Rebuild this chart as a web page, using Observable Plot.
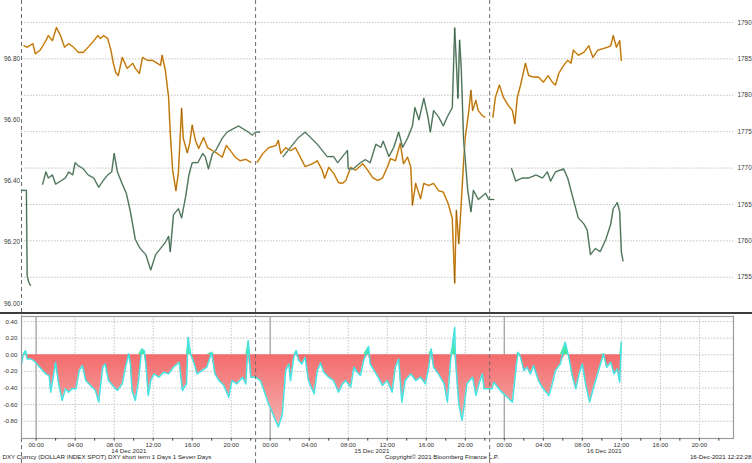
<!DOCTYPE html>
<html><head><meta charset="utf-8">
<script src="https://cdn.jsdelivr.net/npm/d3@7"></script>
<script src="https://cdn.jsdelivr.net/npm/@observablehq/plot@0.6"></script>
<style>
body{margin:0;background:#fff;}
#chart{width:752px;height:463px;position:relative;overflow:hidden;background:#fff;}
#sep{height:2px;background:#3d3d3d;}
#chart svg{display:block;}
</style></head><body><div id="chart"></div>
<script>
// ---- data (times are Dec 2021, GMT) ----
const dxySeries = [
["13T22:30",96.37],["13T23:00",96.37],["13T23:05",96.09],["13T23:15",96.07],["13T23:25",96.06],["14T00:00",NaN],
["14T00:40",96.39],["14T01:00",96.43],["14T01:15",96.41],["14T01:40",96.42],["14T02:00",96.39],["14T02:30",96.40],
["14T03:00",96.41],["14T03:20",96.43],["14T03:45",96.42],["14T04:00",96.46],["14T04:20",96.45],["14T04:50",96.44],
["14T05:20",96.42],["14T05:55",96.41],["14T06:25",96.38],["14T06:50",96.40],["14T07:20",96.42],["14T07:45",96.43],
["14T08:00",96.49],["14T08:20",96.43],["14T08:50",96.39],["14T09:15",96.36],["14T09:40",96.30],["14T10:10",96.21],
["14T10:40",96.18],["14T11:15",96.16],["14T11:45",96.11],["14T12:15",96.16],["14T12:45",96.18],["14T13:15",96.20],
["14T13:35",96.22],["14T13:45",96.17],["14T14:05",96.29],["14T14:35",96.31],["14T14:55",96.28],["14T15:20",96.35],
["14T15:40",96.42],["14T16:00",96.46],["14T16:35",96.46],["14T17:05",96.49],["14T17:20",96.48],["14T17:40",96.44],
["14T18:05",96.49],["14T18:25",96.50],["14T18:35",96.51],["14T19:05",96.54],["14T19:35",96.56],["14T20:10",96.57],
["14T20:45",96.58],["14T21:15",96.57],["14T21:45",96.56],["14T22:10",96.55],["14T22:30",96.56],["14T22:55",96.56],
["15T00:00",NaN],
["15T01:20",96.48],["15T01:35",96.49],["15T02:50",96.54],["15T03:35",96.56],["15T04:50",96.52],["15T05:50",96.48],
["15T06:30",96.48],["15T06:55",96.46],["15T07:25",96.48],["15T07:55",96.50],["15T08:00",96.44],["15T08:30",96.44],
["15T09:15",96.46],["15T09:45",96.47],["15T10:15",96.46],["15T10:50",96.52],["15T11:20",96.51],["15T11:35",96.53],
["15T12:10",96.48],["15T12:40",96.51],["15T13:10",96.56],["15T13:35",96.51],["15T14:05",96.54],["15T14:35",96.58],
["15T14:50",96.64],["15T15:15",96.60],["15T15:45",96.67],["15T16:10",96.61],["15T16:25",96.56],["15T16:45",96.63],
["15T17:15",96.61],["15T17:45",96.58],["15T18:10",96.61],["15T18:40",96.64],["15T18:55",96.90],["15T19:15",96.67],
["15T19:25",96.86],["15T19:35",96.77],["15T19:50",96.53],["15T20:00",96.47],["15T20:15",96.37],["15T20:35",96.30],
["15T20:50",96.37],["15T21:20",96.34],["15T22:05",96.36],["15T22:25",96.34],["15T22:55",96.34],["16T00:00",NaN],
["16T00:45",96.44],["16T01:10",96.40],["16T01:50",96.41],["16T02:30",96.41],["16T03:15",96.42],["16T03:55",96.41],
["16T04:25",96.43],["16T04:45",96.40],["16T05:15",96.43],["16T06:05",96.44],["16T06:30",96.41],["16T07:00",96.35],
["16T07:35",96.28],["16T08:10",96.26],["16T08:30",96.24],["16T08:50",96.16],["16T09:20",96.18],["16T09:50",96.17],
["16T10:25",96.21],["16T10:55",96.26],["16T11:10",96.31],["16T11:35",96.33],["16T11:50",96.30],["16T12:00",96.17],
["16T12:10",96.14]
];
const goldSeries = [
["13T22:45",1786.8],["13T23:05",1786.6],["13T23:40",1787.1],["13T23:55",1785.7],["14T00:25",1786.2],["14T01:00",1787.5],
["14T01:15",1788.2],["14T01:40",1787.5],["14T02:05",1789.3],["14T02:30",1788.2],["14T02:55",1786.6],["14T03:20",1787.1],
["14T03:50",1786.6],["14T04:20",1785.9],["14T04:50",1785.9],["14T05:20",1786.6],["14T05:55",1787.5],["14T06:20",1788.2],
["14T06:35",1787.8],["14T06:55",1788.2],["14T07:20",1787.8],["14T07:40",1786.2],["14T07:55",1784.4],["14T08:10",1783.1],
["14T08:25",1782.7],["14T08:50",1785.2],["14T09:20",1783.7],["14T09:55",1784.4],["14T10:10",1783.7],["14T10:35",1783.0],
["14T10:55",1785.2],["14T11:25",1784.8],["14T11:55",1784.8],["14T12:25",1784.4],["14T12:45",1784.1],["14T12:55",1785.5],
["14T13:15",1783.4],["14T13:35",1779.7],["14T13:45",1774.8],["14T14:00",1769.7],["14T14:20",1766.9],["14T14:35",1769.3],
["14T14:55",1778.2],["14T15:05",1774.1],["14T15:30",1772.1],["14T15:45",1773.4],["14T16:00",1775.9],["14T16:20",1773.8],
["14T16:40",1772.7],["14T17:10",1774.2],["14T17:35",1772.8],["14T18:05",1772.4],["14T18:35",1772.0],["14T19:05",1771.5],
["14T19:30",1773.1],["14T19:55",1772.4],["14T20:25",1771.5],["14T20:55",1771.0],["14T21:30",1771.2],["14T22:00",1770.8],
["14T22:20",NaN],
["14T22:40",1770.8],["14T23:15",1772.0],["14T23:50",1772.8],["15T00:35",1773.1],["15T00:50",1773.8],["15T01:05",1772.0],
["15T01:35",1772.8],["15T02:05",1772.4],["15T02:35",1772.8],["15T03:05",1771.5],["15T03:35",1770.2],["15T04:20",1770.6],
["15T04:50",1771.0],["15T05:20",1769.7],["15T05:35",1768.6],["15T06:00",1770.1],["15T06:30",1769.3],["15T07:00",1768.0],
["15T07:25",1767.9],["15T07:45",1768.3],["15T08:15",1770.1],["15T08:45",1769.7],["15T09:30",1770.6],["15T10:00",1769.7],
["15T10:30",1768.7],["15T11:00",1768.3],["15T11:30",1768.6],["15T12:00",1770.1],["15T12:20",1771.3],["15T12:50",1771.0],
["15T13:20",1773.4],["15T13:40",1770.6],["15T14:05",1771.5],["15T14:25",1770.1],["15T14:35",1764.9],["15T14:55",1767.9],
["15T15:25",1765.8],["15T15:45",1767.9],["15T16:15",1767.6],["15T16:45",1767.9],["15T17:15",1766.9],["15T17:45",1766.7],
["15T18:15",1765.1],["15T18:40",1763.1],["15T18:55",1754.2],["15T19:05",1764.2],["15T19:20",1759.6],["15T19:35",1765.1],
["15T19:50",1771.0],["15T20:00",1774.2],["15T20:20",1777.5],["15T20:35",1780.7],["15T20:45",1777.9],["15T21:05",1779.3],
["15T21:20",1777.9],["15T21:45",1777.2],["15T22:00",1777.0],["15T22:25",NaN],
["15T22:50",1777.0],["15T23:05",1779.7],["15T23:30",1781.4],["15T23:55",1779.7],["16T00:25",1778.6],["16T00:50",1777.9],
["16T01:05",1776.1],["16T01:20",1779.7],["16T01:40",1781.4],["16T02:10",1784.4],["16T02:30",1782.7],["16T03:00",1782.5],
["16T03:30",1782.5],["16T04:00",1781.8],["16T04:30",1782.7],["16T04:55",1781.8],["16T05:15",1781.4],["16T05:35",1783.0],
["16T06:05",1784.1],["16T06:30",1784.8],["16T06:50",1784.4],["16T07:05",1786.2],["16T07:35",1785.5],["16T08:10",1785.9],
["16T08:40",1786.8],["16T09:05",1785.2],["16T09:35",1786.2],["16T10:05",1786.4],["16T10:35",1786.6],["16T10:55",1786.8],
["16T11:10",1788.2],["16T11:30",1786.6],["16T11:50",1787.5],["16T12:00",1784.8]
];
const oscSeries = [
["13T22:30",-0.11],["13T22:40",-0.01],["13T22:55",0.05],["13T23:05",-0.05],["13T23:25",-0.05],["13T23:45",-0.07],
["14T00:05",-0.11],["14T00:40",-0.19],["14T01:00",-0.23],["14T01:20",-0.25],["14T01:30",-0.45],["14T01:45",-0.27],
["14T02:00",-0.09],["14T02:15",-0.31],["14T02:40",-0.55],["14T03:00",-0.41],["14T03:20",-0.45],["14T03:40",-0.41],
["14T04:05",-0.41],["14T04:25",-0.19],["14T04:45",-0.13],["14T05:05",-0.31],["14T05:35",-0.37],["14T06:05",-0.43],
["14T06:25",-0.57],["14T06:50",-0.15],["14T07:05",-0.11],["14T07:25",-0.31],["14T08:00",-0.39],["14T08:20",-0.43],
["14T08:50",-0.35],["14T09:10",-0.15],["14T09:30",0.01],["14T09:40",-0.11],["14T09:50",-0.43],["14T10:10",-0.55],
["14T10:30",-0.31],["14T10:50",0.07],["14T11:05",0.05],["14T11:15",-0.11],["14T11:30",-0.49],["14T11:45",-0.31],
["14T12:05",-0.23],["14T12:35",-0.27],["14T13:05",-0.21],["14T13:35",-0.23],["14T14:05",-0.15],["14T14:40",-0.09],
["14T15:00",-0.43],["14T15:25",-0.35],["14T15:35",0.21],["14T15:50",0.01],["14T16:10",-0.09],["14T16:30",-0.23],
["14T17:00",-0.19],["14T17:30",-0.15],["14T18:00",0.03],["14T18:20",-0.23],["14T18:45",-0.31],["14T19:15",-0.37],
["14T19:45",-0.51],["14T20:05",-0.31],["14T20:35",-0.35],["14T21:10",-0.27],["14T21:30",-0.35],["14T21:45",0.17],
["14T22:00",-0.27],["14T22:30",-0.27],["14T23:00",-0.31],["14T23:50",-0.59],["15T00:50",-0.87],["15T01:15",-0.71],
["15T01:35",-0.19],["15T01:55",-0.11],["15T02:05",-0.31],["15T02:25",-0.03],["15T02:40",0.05],["15T02:55",-0.07],
["15T03:15",-0.11],["15T03:35",-0.03],["15T03:55",-0.31],["15T04:30",-0.47],["15T04:50",-0.19],["15T05:10",-0.10],
["15T05:30",-0.21],["15T06:00",-0.27],["15T06:30",-0.31],["15T07:00",-0.45],["15T07:25",-0.35],["15T07:45",-0.31],
["15T08:15",-0.39],["15T08:35",-0.15],["15T08:55",-0.21],["15T09:15",-0.25],["15T09:35",-0.07],["15T10:05",0.10],
["15T10:15",-0.11],["15T10:40",-0.19],["15T11:10",-0.29],["15T11:30",-0.37],["15T12:00",-0.31],["15T12:30",-0.45],
["15T12:50",-0.15],["15T13:10",-0.05],["15T13:30",-0.57],["15T13:50",-0.31],["15T14:25",-0.23],["15T14:55",-0.31],
["15T15:25",-0.27],["15T15:55",-0.35],["15T16:15",-0.15],["15T16:30",0.07],["15T16:45",-0.15],["15T17:15",-0.23],
["15T17:50",-0.35],["15T18:10",-0.57],["15T18:30",-0.07],["15T18:40",0.09],["15T18:55",0.33],["15T19:00",-0.07],
["15T19:20",-0.59],["15T19:40",-0.79],["15T19:55",-0.59],["15T20:10",-0.35],["15T20:45",-0.27],["15T21:05",-0.49],
["15T21:25",-0.35],["15T21:45",-0.23],["15T21:55",-0.41],["15T22:45",-0.41],["15T22:55",-0.33],["15T23:45",-0.45],
["16T00:50",-0.57],["16T01:00",-0.39],["16T01:15",-0.11],["16T01:25",0.03],["16T01:40",-0.03],["16T02:00",-0.19],
["16T02:20",-0.15],["16T02:40",-0.23],["16T03:00",-0.13],["16T03:30",-0.31],["16T04:00",-0.41],["16T04:35",-0.49],
["16T04:55",-0.35],["16T05:15",-0.19],["16T05:45",-0.11],["16T06:15",0.15],["16T06:35",-0.01],["16T07:00",-0.27],
["16T07:20",-0.41],["16T07:40",-0.23],["16T08:00",-0.11],["16T08:20",-0.35],["16T08:45",-0.57],["16T09:10",-0.39],
["16T09:40",-0.19],["16T10:10",0.01],["16T10:30",-0.15],["16T10:55",-0.09],["16T11:15",-0.23],["16T11:35",-0.17],
["16T11:50",-0.33],["16T12:00",0.15]
];
const xDomain = ["13T22:30","16T23:30"];
const sessionBreaks = ["13T22:30","14T22:30","15T22:30"];
const dayStarts = ["14T00:00","15T00:00","16T00:00"];
const dateLabelTimes = ["14T09:30","15T10:25","16T10:15"];
const dxyTicks = [96.00, 96.20, 96.40, 96.60, 96.80];
const goldTicks = [1755, 1760, 1765, 1770, 1775, 1780, 1785, 1790];
const oscTicks = [0.40, 0.20, 0.00, -0.20, -0.40, -0.60, -0.80];
const footerLeft = "DXY Curncy (DOLLAR INDEX SPOT) DXY short term 1 Days 1 Seven Days";
const footerMid = "Copyright\u00A9 2021 Bloomberg Finance L.P.";
const footerRight = "16-Dec-2021 12:22:28";

// ---- helpers ----
const parseT = s => new Date("2021-12-" + s + "Z");
const toRows = arr => arr.map(([t, v]) => ({t: parseT(t), v}));
const dxy = toRows(dxySeries), gold = toRows(goldSeries), osc = toRows(oscSeries);
const domainX = xDomain.map(parseT);
const breaks = sessionBreaks.map(parseT);
const days = dayStarts.map(parseT);
const dateTicks = dateLabelTimes.map(parseT);
const H = 3600e3;
const hourTicks = d3.utcHours(days[0], new Date(+days[2] + 21 * H), 4);
const gridTimes = hourTicks.filter(d => d.getUTCHours() !== 0);
const minorTicks = d3.utcHours(days[0], new Date(+days[2] + 23 * H), 2);
// right-hand (gold) axis mapped onto the left (DXY) scale
const goldToDxy = g => 96.9175 - (1790 - g) * 0.023752;
const dxyToGold = v => 1790 - (96.9175 - v) / 0.023752;

const font = "'Liberation Sans', Arial, sans-serif";
const gridStyle = {stroke: "#c2c2c2", strokeDasharray: "1.5,1.5", strokeWidth: 1};

const topPlot = Plot.plot({
  width: 752, height: 312,
  marginTop: 0, marginBottom: 0, marginLeft: 21, marginRight: 19,
  style: {fontFamily: font, fontSize: "6.4px", color: "#3a3a3a", background: "#fff", overflow: "visible"},
  x: {type: "utc", domain: domainX, axis: null},
  y: {domain: [95.9713, 96.9892], label: null},
  marks: [
    Plot.ruleY(goldTicks, {y: goldToDxy, ...gridStyle}),
    Plot.ruleX(breaks, {stroke: "#6c6c6c", strokeDasharray: "4,3", strokeWidth: 1}),
    Plot.axisY(dxyTicks, {anchor: "left", tickSize: 0, tickPadding: 1.5, label: null, tickFormat: d => d.toFixed(2)}),
    Plot.axisY(goldTicks.map(goldToDxy), {anchor: "right", tickSize: 0, tickPadding: 4, label: null, tickFormat: d => String(Math.round(dxyToGold(d)))}),
    Plot.line(gold, {x: "t", y: d => goldToDxy(d.v), stroke: "#f7a72c", strokeWidth: 1.6}),
    Plot.line(gold, {x: "t", y: d => goldToDxy(d.v), stroke: "#2a1806", strokeWidth: 0.5, strokeOpacity: 0.75}),
    Plot.line(dxy, {x: "t", y: "v", stroke: "#a8bcae", strokeWidth: 1.7}),
    Plot.line(dxy, {x: "t", y: "v", stroke: "#2b573a", strokeWidth: 0.8})
  ]
});

const bottomPlot = Plot.plot({
  width: 752, height: 149,
  marginTop: 2, marginBottom: 25, marginLeft: 21, marginRight: 19,
  style: {fontFamily: font, fontSize: "6.2px", color: "#333", background: "#fff", overflow: "visible"},
  x: {type: "utc", domain: domainX, label: null},
  y: {domain: [-1.008, 0.461], label: null},
  marks: [
    Plot.ruleY(oscTicks, gridStyle),
    Plot.ruleX(gridTimes, gridStyle),
    Plot.ruleX(days, {stroke: "#a8a8a8", strokeWidth: 1.4}),
    Plot.areaY(osc, {x: "t", y1: 0, y2: d => Math.min(d.v, 0), fill: "url(#oscRed)"}),
    Plot.areaY(osc, {x: "t", y1: 0, y2: d => Math.max(d.v, 0), fill: "#46e88e"}),
    Plot.lineY(osc, {x: "t", y: "v", stroke: "#45e3e3", strokeWidth: 1.5}),
    Plot.ruleX(breaks, {y1: -1.31, y2: 0.47, stroke: "#6c6c6c", strokeDasharray: "4,3", strokeWidth: 1}),
    Plot.frame({stroke: "#9c9c9c", strokeWidth: 1.2}),
    Plot.ruleX(minorTicks, {y1: -1.008, y2: -1.04, stroke: "#444", strokeWidth: 1}),
    Plot.axisY(oscTicks, {anchor: "left", tickSize: 0, tickPadding: 4, label: null, tickFormat: d => d.toFixed(2)}),
    Plot.axisX(hourTicks, {anchor: "bottom", tickSize: 0, tickPadding: 3.6, label: null, tickFormat: d3.utcFormat("%H:%M")}),
    Plot.axisX(dateTicks, {anchor: "bottom", tickSize: 0, tickPadding: 9.8, label: null, tickFormat: d3.utcFormat("%d %b %Y")}),
    Plot.text([footerLeft], {frameAnchor: "bottom-left", dx: -19, dy: 20.5, textAnchor: "start", text: d => d, fill: "#222"}),
    Plot.text([footerMid], {frameAnchor: "bottom-left", dx: 420.5, dy: 20.5, textAnchor: "middle", text: d => d, fill: "#222"}),
    Plot.text([footerRight], {frameAnchor: "bottom-right", dx: 18, dy: 20.5, textAnchor: "end", text: d => d, fill: "#222"})
  ]
});

// vertical gradient for the negative (red) fill
const ns = "http://www.w3.org/2000/svg";
const yScale = bottomPlot.scale("y");
const defs = document.createElementNS(ns, "defs");
const grad = document.createElementNS(ns, "linearGradient");
grad.setAttribute("id", "oscRed");
grad.setAttribute("gradientUnits", "userSpaceOnUse");
grad.setAttribute("x1", 0); grad.setAttribute("x2", 0);
grad.setAttribute("y1", yScale.apply(0)); grad.setAttribute("y2", yScale.apply(-1.008));
[["0", "#f46c6c"], ["1", "#f5bcbc"]].forEach(([o, c]) => {
  const s = document.createElementNS(ns, "stop");
  s.setAttribute("offset", o); s.setAttribute("stop-color", c);
  grad.appendChild(s);
});
defs.appendChild(grad);
bottomPlot.insertBefore(defs, bottomPlot.firstChild);

const chart = document.getElementById("chart");
chart.appendChild(topPlot);
const sep = document.createElement("div"); sep.id = "sep";
chart.appendChild(sep);
chart.appendChild(bottomPlot);
</script></body></html>
